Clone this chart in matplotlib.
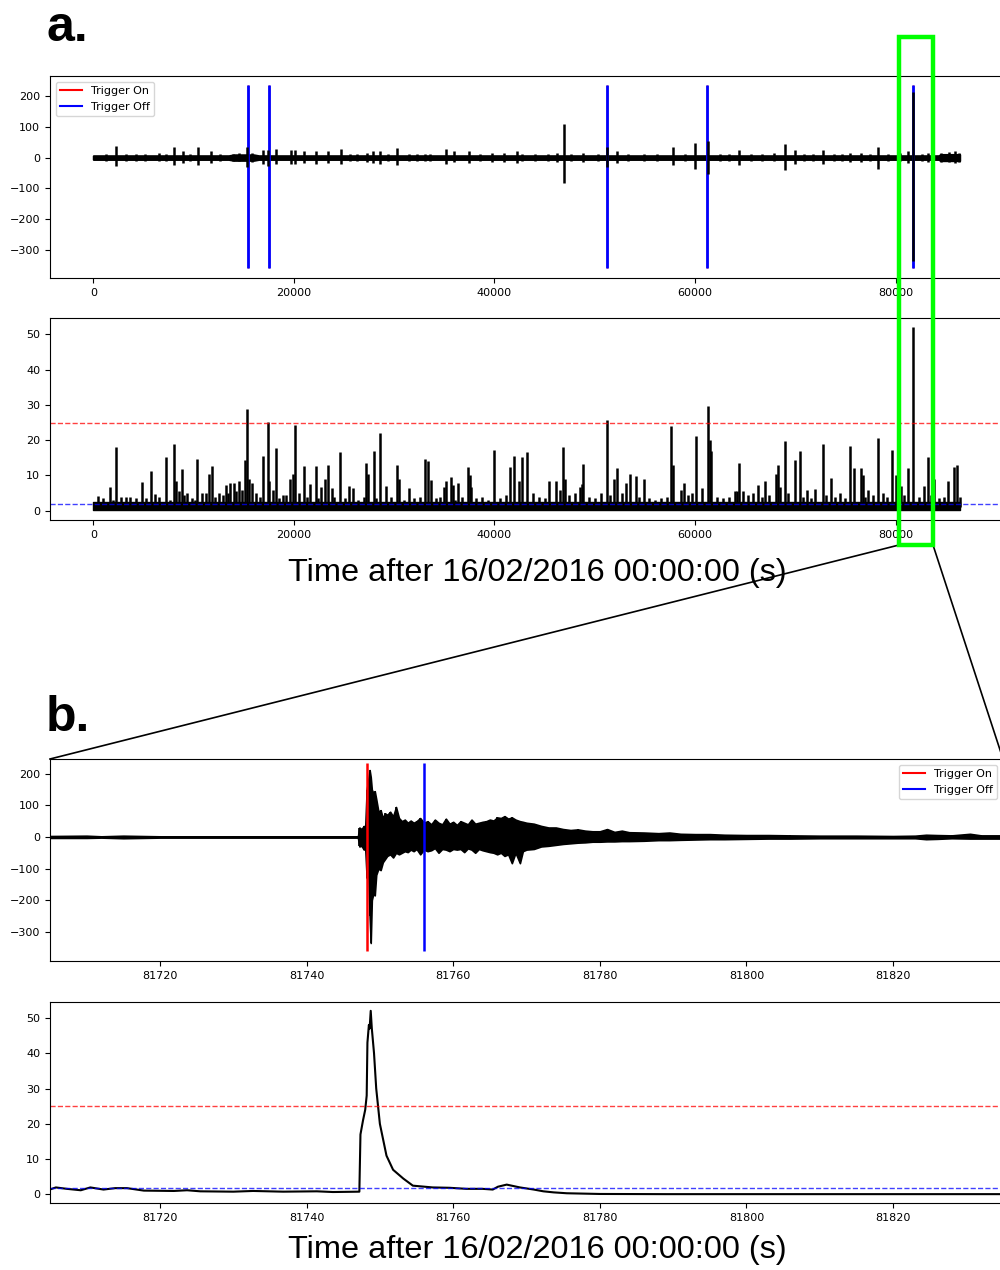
import matplotlib.pyplot as plt
from matplotlib.lines import Line2D
from matplotlib.patches import Rectangle

# trigger on / off times (s after 16/02/2016 00:00:00)
trig_on = [15380, 17480, 51210, 61180, 81748.3]
trig_off = [15392, 17492, 51224, 61195, 81756.0]
trig_lo, trig_hi = -360, 235

# whole day trace: background noise band
noise_t = [0, 13500, 14000, 16000, 16500, 84300, 84500, 86400]
noise_amp = [6, 6, 9, 9, 6, 6, 10, 10]

# bursts sticking out of the noise (time, top, bottom)
burst_t = [1300, 2270, 3300, 4300, 5200, 6570, 7200, 8070, 8900, 9600, 10400, 11770,
           12600, 13900, 14500, 15300, 15800, 16930, 17430, 18200, 19700, 20100,
           21000, 22200, 23430, 24670, 25600, 26300, 27270, 27930, 28600, 29400,
           30330, 31500, 32300, 33100, 33600, 35200, 35930, 37430, 38600, 39770,
           41000, 42270, 42770, 44000, 45300, 46270, 46900, 47600, 48870, 50300,
           51270, 52200, 53300, 54930, 56200, 57770, 59000, 60030, 61330, 62500,
           63400, 64370, 65600, 66700, 67900, 68930, 69930, 70900, 71800, 72770,
           73900, 74700, 75430, 76600, 77500, 78270, 79300, 80400, 81200, 81748,
           82600, 83200, 84500, 85300, 85900, 86300]
burst_hi = [12, 38, 10, 11, 10, 15, 12, 33, 20, 11, 33, 20,
            12, 12, 14, 35, 14, 25, 25, 28, 25, 25,
            20, 22, 20, 28, 11, 10, 15, 20, 22, 11,
            30, 10, 10, 12, 12, 28, 20, 22, 11, 15,
            15, 22, 12, 11, 10, 15, 108, 12, 15, 11,
            33, 20, 12, 12, 11, 33, 12, 47, 54, 12,
            10, 25, 11, 12, 14, 45, 25, 12, 11, 25,
            12, 11, 15, 15, 12, 35, 12, 14, 20, 212,
            12, 15, 14, 18, 20, 16]
burst_lo = [-12, -27, -10, -10, -10, -12, -11, -25, -18, -10, -25, -18,
            -11, -12, -12, -30, -14, -22, -28, -22, -20, -22,
            -18, -20, -18, -22, -10, -10, -14, -18, -20, -10,
            -25, -10, -10, -12, -12, -22, -16, -18, -10, -14,
            -14, -18, -12, -10, -10, -14, -81, -11, -14, -10,
            -31, -18, -11, -12, -10, -24, -11, -38, -53, -11,
            -10, -24, -10, -11, -12, -40, -22, -11, -10, -22,
            -11, -10, -14, -14, -11, -37, -11, -12, -18, -336,
            -11, -14, -14, -15, -18, -14]

# whole day STA/LTA: baseline band and peaks
cf_base_t = [0, 86400]
cf_base_lo = [0.3, 0.3]
cf_base_hi = [2.6, 2.6]
cf_peak_t = [470, 1700, 2270, 2800, 3300, 4870, 5800, 6200, 7230, 8070, 8200, 8530,
             8800, 9300, 10370, 10800, 11200, 11530, 11830, 12500, 13200, 13600,
             14000, 14500, 15100, 15300, 15500, 15800, 16930, 17430, 17530, 17900,
             18170, 18900, 19600, 19930, 20100, 21000, 21600, 22170, 22700, 23100,
             23430, 23770, 24630, 25500, 25930, 27200, 27400, 27970, 28600, 29200,
             30270, 30500, 31500, 33070, 33370, 33700, 34930, 35200, 35670, 35900,
             36400, 37330, 37600, 37700, 39930, 41600, 42000, 42500, 42770, 43270,
             45430, 46130, 46500, 46830, 47000, 48000, 48500, 48700, 48870, 50600,
             51230, 51900, 52200, 53100, 53530, 54100, 54900, 57600, 57770, 58600,
             58930, 60070, 60730, 61300, 61470, 61600, 64000, 64200, 64370, 64800,
             66270, 67030, 68130, 68330, 68500, 68930, 69930, 70430, 71200, 72000,
             72800, 73600, 74500, 75430, 75830, 76530, 76800, 77300, 78230, 79670,
             80000, 80500, 81200, 81748, 82800, 83200, 83870, 85230, 85800, 86130]
cf_peak_h = [4.3, 6.7, 18, 4, 4, 8.1, 11.3, 4.7, 15.1, 18.9, 8.5, 5.7,
             11.8, 5, 14.8, 5, 5, 10.3, 12.6, 5, 7.3, 8,
             8, 8.5, 14.3, 28.9, 9, 7.8, 15.6, 25.1, 8.5, 6,
             17.7, 4.5, 9, 10.5, 24.4, 12.7, 7.5, 12.7, 6.7, 9,
             13.1, 6.5, 16.7, 7, 6.5, 13.6, 10.3, 16.8, 22, 7,
             13.1, 9, 6.5, 14.7, 14.1, 8.7, 6.6, 8.3, 9.6, 7.3,
             8, 12.4, 10, 6.7, 17.2, 12.4, 15.5, 8.5, 15.2, 16.7,
             8.3, 8.5, 6, 18.2, 9, 5, 6.8, 7.6, 13.2, 5,
             25.6, 9, 12, 8, 10.3, 9.8, 9, 24, 13, 6,
             8, 21.3, 6.5, 29.6, 20, 17, 5.5, 5.5, 13.5, 5.5,
             7.3, 8.4, 10.3, 13.1, 6.8, 19.9, 14.3, 16.8, 6, 6.3,
             18.8, 9.3, 5, 18.3, 12, 12.1, 10, 6, 20.7, 17.3,
             10, 7, 12.2, 52, 7, 15.1, 9, 8.5, 12.5, 13]
# small bumps on top of the baseline
cf_bump_t = [1000, 2000, 3700, 4300, 5300, 6600, 7600, 9000, 9800, 10100, 12100,
             12900, 13400, 14200, 14800, 16200, 16600, 18500, 19200, 20500, 21300,
             22400, 24000, 25100, 26400, 27000, 28200, 29700, 31000, 32000, 32600,
             34200, 34600, 36100, 36800, 38200, 38800, 39400, 40600, 41200, 43800,
             44400, 45000, 47400, 49400, 50000, 51500, 52700, 54400, 55400, 56000,
             56600, 57200, 59300, 59700, 62200, 62800, 63400, 65300, 65800, 66700,
             67400, 69300, 70800, 71600, 73100, 74000, 75000, 77000, 77800, 78800,
             79200, 80800, 82300, 83500, 84300, 84800, 86400]
cf_bump_h = [3.5, 3, 4, 3.5, 3.5, 4, 3, 4.5, 3.5, 3, 4,
             4.5, 5, 5.5, 6, 5, 4, 3.5, 4.5, 5, 4,
             3.5, 4, 3.5, 3, 4, 3.5, 4, 3, 3.5, 4,
             3.5, 4, 3, 4, 3.5, 4, 3, 3.5, 4.5, 5,
             4, 3.5, 4.5, 4, 3.5, 4.5, 5, 4, 3.5, 3,
             3.5, 4, 4.5, 5, 4, 3.5, 4, 4.5, 5, 4,
             4.5, 5, 4, 3.5, 4.5, 4, 3.5, 4, 4.5, 5,
             4, 4.5, 4, 4.5, 3.5, 4, 4]

thr_on = 25
thr_off = 1.85

# zoom on the event: waveform envelope (time, top, bottom)
ev_t = [81705.0, 81710.0, 81712.0, 81715.0, 81720.0, 81730.0, 81740.0, 81747.0,
        81747.2, 81747.5, 81747.8, 81748.0, 81748.2, 81748.4, 81748.6, 81748.75,
        81748.9, 81749.1, 81749.3, 81749.5, 81749.8, 81750.1, 81750.4, 81750.7,
        81751.0, 81751.4, 81751.8, 81752.2, 81752.6, 81753.0, 81753.4, 81753.8,
        81754.2, 81754.6, 81755.0, 81755.5, 81756.0, 81756.5, 81757.0, 81757.5,
        81758.0, 81758.5, 81759.0, 81759.5, 81760.0, 81760.5, 81761.0, 81761.5,
        81762.0, 81762.5, 81763.0, 81763.5, 81764.0, 81764.5, 81765.0, 81765.5,
        81766.0, 81766.5, 81767.0, 81767.5, 81768.0, 81768.5, 81769.1, 81769.5,
        81770.0, 81771.0, 81772.0, 81773.0, 81774.0, 81775.0, 81776.0, 81777.0,
        81778.0, 81779.0, 81780.0, 81781.0, 81782.0, 81783.0, 81784.0, 81786.0,
        81788.0, 81789.5, 81791.0, 81793.0, 81795.0, 81797.0, 81800.0, 81803.0,
        81806.0, 81810.0, 81815.0, 81820.0, 81823.0, 81824.5, 81826.0, 81828.0,
        81830.5, 81832.0, 81835.0]
ev_hi = [3, 4, 2, 4, 2, 2, 2, 2,
         30, 25, 35, 30, 150, 180, 212, 190,
         150, 140, 145, 120, 80, 85, 60, 75,
         70, 80, 65, 95, 60, 50, 55, 45,
         52, 45, 50, 60, 45, 50, 40, 55,
         45, 40, 58, 42, 48, 38, 50, 45,
         40, 55, 42, 45, 48, 50, 55, 52,
         62, 60, 66, 58, 62, 55, 50, 48,
         45, 42, 35, 30, 30, 25, 22, 24,
         20, 18, 18, 25, 16, 20, 15, 14,
         12, 14, 10, 9, 9, 7, 6, 6,
         5, 4, 4, 3, 4, 7, 6, 5,
         10, 5, 5]
ev_lo = [-3, -3, -2, -4, -2, -2, -2, -2,
         -30, -28, -40, -35, -130, -100, -250, -336,
         -200, -180, -185, -120, -100, -105, -80, -70,
         -60, -55, -65, -50, -55, -50, -45, -48,
         -40, -45, -38, -55, -40, -45, -42, -35,
         -50, -38, -40, -45, -38, -40, -38, -48,
         -36, -40, -50, -38, -42, -45, -48, -50,
         -55, -50, -60, -55, -83, -50, -83, -45,
         -40, -38, -30, -28, -25, -22, -20, -18,
         -17, -15, -15, -14, -14, -13, -13, -12,
         -10, -10, -9, -8, -7, -7, -6, -5,
         -5, -4, -4, -4, -4, -7, -6, -4,
         -5, -5, -5]

# zoom on the event: STA/LTA
cf_t = [81705.1, 81705.8, 81707.3, 81709.2, 81710.5, 81712.3, 81713.9, 81715.5,
        81717.8, 81721.9, 81723.7, 81725.5, 81730.0, 81732.7, 81736.8, 81741.4,
        81743.6, 81747.2, 81747.35, 81747.7, 81748.0, 81748.2, 81748.3, 81748.5,
        81748.6, 81748.75, 81748.9, 81749.2, 81749.5, 81750.0, 81750.9, 81751.8,
        81753.2, 81754.5, 81757.2, 81759.5, 81761.8, 81764.0, 81765.4, 81766.1,
        81767.3, 81768.2, 81769.1, 81771.0, 81772.3, 81773.7, 81775.5, 81780.0,
        81789.0, 81835.0]
cf_v = [1.5, 2.0, 1.6, 1.2, 2.0, 1.4, 1.8, 1.8,
        1.1, 1.0, 1.2, 0.9, 0.8, 1.0, 0.8, 0.9,
        0.7, 0.8, 17, 21, 24, 28, 43, 48,
        47, 52, 47, 40, 30, 20, 11, 7,
        4.5, 2.5, 2.0, 1.9, 1.6, 1.6, 1.4, 2.2,
        2.8, 2.4, 2.0, 1.4, 0.9, 0.6, 0.35, 0.15,
        0.1, 0.1]

fig = plt.figure(figsize=(10, 12.7), dpi=100)

def add_triggers(ax, on, off, lw_on=1.8, lw_off=1.8):
    ax.vlines(on, trig_lo, trig_hi, color='r', lw=lw_on)
    ax.vlines(off, trig_lo, trig_hi, color='b', lw=lw_off)

def legend(ax, loc):
    h = [Line2D([], [], color='r', lw=1.5), Line2D([], [], color='b', lw=1.5)]
    ax.legend(h, ['Trigger On', 'Trigger Off'], loc=loc, fontsize=8)

# a. whole day, waveform
ax1 = fig.add_axes([0.05, 0.7811, 0.953, 0.1591])
add_triggers(ax1, trig_on, trig_off, lw_on=1.0, lw_off=2.0)
ax1.fill_between(noise_t, [-a for a in noise_amp], noise_amp, color='k', lw=1.5)
ax1.vlines(burst_t, burst_lo, burst_hi, color='k', lw=1.8)
ax1.set_xlim(-4320, 90720)
ax1.set_ylim(-391, 265)
ax1.set_xticks([0, 20000, 40000, 60000, 80000])
legend(ax1, 'upper left')

# a. whole day, STA/LTA
ax2 = fig.add_axes([0.05, 0.5906, 0.953, 0.1590])
ax2.fill_between(cf_base_t, cf_base_lo, cf_base_hi, color='k', lw=1)
ax2.vlines(cf_bump_t, 1, cf_bump_h, color='k', lw=1.8)
ax2.vlines(cf_peak_t, 1, cf_peak_h, color='k', lw=1.8)
ax2.axhline(thr_on, color='r', ls='--', lw=1, alpha=0.75)
ax2.axhline(thr_off, color='b', ls='--', lw=1, alpha=0.75)
ax2.set_xlim(-4320, 90720)
ax2.set_ylim(-2.6, 54.6)
ax2.set_xticks([0, 20000, 40000, 60000, 80000])

# b. zoom on the event, waveform
ax3 = fig.add_axes([0.05, 0.2433, 0.953, 0.1588])
ax3.fill_between(ev_t, ev_lo, ev_hi, color='k', lw=1.2)
ax3.vlines(ev_t, ev_lo, ev_hi, color='k', lw=1.2)
add_triggers(ax3, trig_on[-1:], trig_off[-1:])
ax3.set_xlim(81705, 81835)
ax3.set_ylim(-393, 246)
legend(ax3, 'upper right')

# b. zoom on the event, STA/LTA
ax4 = fig.add_axes([0.05, 0.0525, 0.953, 0.1588])
ax4.plot(cf_t, cf_v, color='k', lw=1.5)
ax4.axhline(thr_on, color='r', ls='--', lw=1, alpha=0.75)
ax4.axhline(thr_off, color='b', ls='--', lw=1, alpha=0.75)
ax4.set_xlim(81705, 81835)
ax4.set_ylim(-2.5, 54.6)

for ax in (ax1, ax2, ax3, ax4):
    ax.tick_params(labelsize=8)
    ax.ticklabel_format(useOffset=False, style='plain', axis='x')

xlab = 'Time after 16/02/2016 00:00:00 (s)'
fig.text(0.5375, 1 - 573 / 1270, xlab, ha='center', va='center',
         fontsize=23.4, family='Liberation Sans')
fig.text(0.5375, 1 - 1250 / 1270, xlab, ha='center', va='center',
         fontsize=23.4, family='Liberation Sans')
fig.text(0.046, 1 - 28 / 1270, 'a.', ha='left', va='center',
         fontsize=36, weight='bold', family='Liberation Sans')
fig.text(0.046, 1 - 718 / 1270, 'b.', ha='left', va='center',
         fontsize=36, weight='bold', family='Liberation Sans')

# zoom box and connectors
fig.add_artist(Rectangle((0.899, 1 - 545 / 1270), 0.034, 508 / 1270,
                         transform=fig.transFigure, fill=False,
                         ec='#00ff00', lw=3.2, zorder=10))
fig.add_artist(Line2D([0.05, 0.899], [1 - 759 / 1270, 1 - 545 / 1270],
                      transform=fig.transFigure, color='k', lw=1.2))
fig.add_artist(Line2D([0.933, 1.003], [1 - 545 / 1270, 1 - 759 / 1270],
                      transform=fig.transFigure, color='k', lw=1.2))

fig.savefig('out.png', dpi=100)
